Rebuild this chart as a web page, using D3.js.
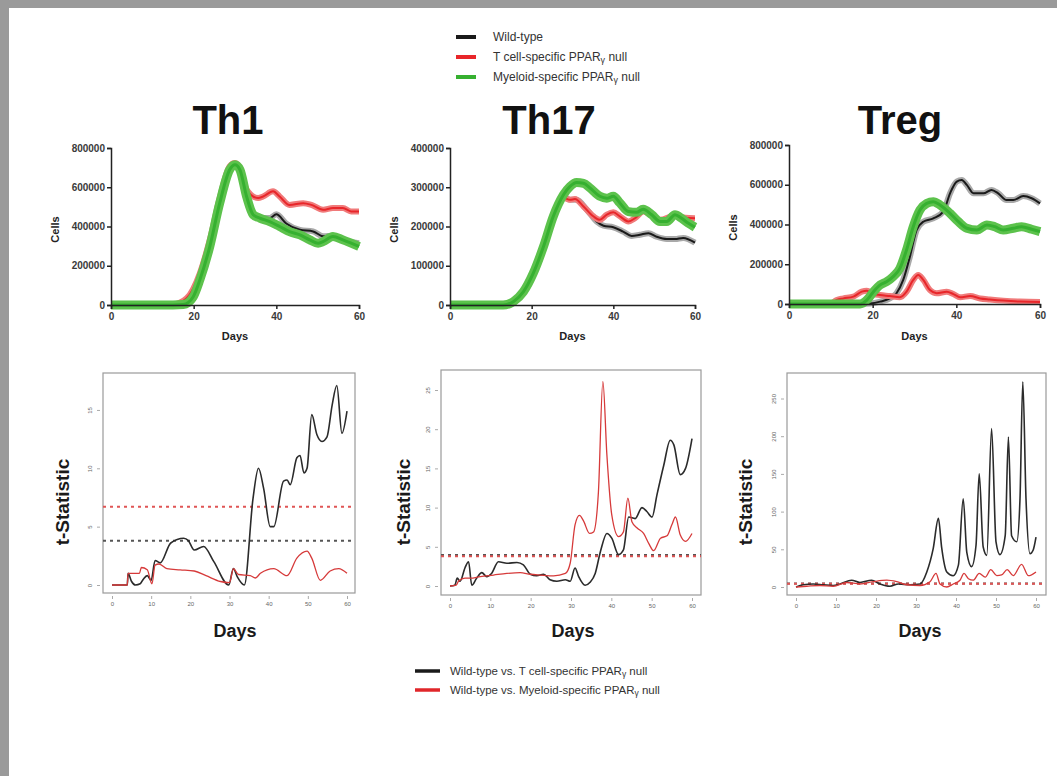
<!DOCTYPE html>
<head>
  <meta charset="UTF-8">
  <script src="https://d3js.org/d3.v7.min.js"></script>
  <title>PPARg null cell dynamics</title>
  <style>
    body { margin: 0; background: #9a9a9a; }
    svg { display: block; font-family: "Liberation Sans", Arial, sans-serif; }
  </style>
</head>
<body>
  <svg id="chart"></svg>
    <script>

        var width = 1057;
        var height = 776;

        // top row: simulated cell counts, [day, cells]
        var th1WT = [[0,0],[14,0],[17.5,2000],[19.9,40000],[21.5,128000],[23.9,298000],[26.3,519000],[28.7,689000],[30,712000],[31.2,690000],[32.8,553000],[34.4,465000],[36,445000],[38.4,443000],[40,462000],[42.4,415000],[45.7,383000],[48.9,375000],[51.3,350000],[53.7,352000],[56.1,332000],[60,315000]];
        var th1Tcell = [[0,0],[13,0],[15,2000],[18.3,34000],[21.5,162000],[23.9,332000],[26.3,545000],[28.7,706000],[30,723000],[31.2,698000],[32.8,587000],[35.6,545000],[36.8,553000],[39.2,579000],[40.8,553000],[43.2,510000],[46.5,519000],[48.5,510000],[51.3,485000],[53.7,494000],[56.1,494000],[58.1,477000],[60,477000]];
        var th1Myel = [[0,0],[15,0],[17.5,2000],[19.9,42000],[21.5,128000],[23.9,298000],[26.3,519000],[28.7,689000],[30,715000],[31.2,689000],[32.8,553000],[34.4,460000],[36,443000],[38.4,425000],[40.8,400000],[43.2,374000],[45.7,357000],[48.1,332000],[50.1,315000],[51.3,323000],[53.7,349000],[56.1,332000],[58.1,315000],[60,298000]];

        var th17WT = [[0,0],[13,0],[15.5,8500],[18,34000],[20.4,81000],[22.9,149000],[25.3,226000],[27.8,276000],[29.4,268000],[31,268000],[33.5,243000],[35.9,213000],[37.6,202000],[40,198000],[42.4,187000],[44.5,176000],[46.5,179000],[48.6,183000],[50.6,174000],[53.1,168000],[55.1,168000],[57.1,171000],[60,159000]];
        var th17Tcell = [[0,0],[13,0],[15.5,8500],[18,34000],[20.4,81000],[22.9,149000],[25.3,226000],[27.8,273000],[29.4,268000],[30.6,270000],[32.7,251000],[35.1,226000],[36.7,217000],[38.4,230000],[40,236000],[41.6,226000],[43.7,213000],[45.3,221000],[47.3,238000],[51.4,217000],[55.1,228000],[57.6,222000],[60,221000]];
        var th17Myel = [[0,0],[13,0],[15.5,8500],[18,34000],[20.4,81000],[22.9,149000],[25.3,226000],[27.8,281000],[29.4,302000],[31,312000],[32.7,310000],[34.3,298000],[36.7,277000],[38.4,272000],[40,277000],[41.6,260000],[43.7,238000],[45.7,236000],[47.3,244000],[49.4,230000],[51.4,213000],[53.1,213000],[55.1,230000],[56.7,221000],[58.4,208000],[60,198000]];

        var tregWT = [[0,0],[15.4,0],[19.4,3000],[21.8,12000],[24.1,28000],[25.7,54000],[27.3,121000],[28.9,238000],[30.5,372000],[32.1,414000],[34.5,431000],[36.9,465000],[38.5,557000],[40.1,616000],[41.3,624000],[42.5,599000],[44.1,557000],[46.5,557000],[48.4,574000],[50,557000],[52,523000],[53.6,523000],[56,543000],[58,532000],[60,506000]];
        var tregTcell = [[0,0],[9.8,0],[11.4,20000],[13,28000],[15.4,37000],[17.4,62000],[18.6,67000],[20.2,50000],[21.8,45000],[24.1,40000],[26.5,34000],[28.1,62000],[29.7,121000],[30.9,146000],[32.1,121000],[33.7,70000],[35.3,54000],[37.7,62000],[39.3,50000],[40.9,34000],[43.3,40000],[45.7,28000],[48,23000],[51.2,17000],[55.2,12000],[60,10000]];
        var tregMyel = [[0,0],[17,0],[18.6,20000],[20.2,62000],[21.8,96000],[23.3,112000],[24.9,138000],[26.5,179000],[28.1,272000],[29.7,389000],[31.3,473000],[32.9,506000],[34.5,515000],[36.1,498000],[38.5,456000],[40.5,414000],[42.5,381000],[44.9,372000],[47.3,398000],[49.2,389000],[51.2,372000],[53.6,381000],[55.6,389000],[58,376000],[60,364000]];

        // bottom row: t-statistics, [day, t]
        var th1TvsT = [[0,0],[3.9,0],[4.1,1.0],[5,0.3],[6,0],[7.2,0.1],[8,0.5],[9,0.8],[10,0.4],[11,2.1],[12.3,1.9],[15,3.6],[18.3,4.0],[19.5,3.8],[21,3.0],[23.4,3.3],[26,2.0],[29.8,0],[31,1.4],[32,0.7],[33.8,0],[36,7.4],[37.4,10.0],[38.7,8.3],[40.4,5.0],[41.3,5.0],[43.8,8.9],[44.7,9.0],[45.5,8.6],[47.2,10.9],[48,11.1],[49,9.6],[49.8,10.0],[51,14.6],[52.3,12.9],[53.6,12.3],[54.9,12.7],[56.2,15.4],[57.4,17.1],[58.7,13.0],[60,14.9]];
        var th1TvsM = [[0,0],[3.9,0],[4.1,1.0],[7,1.0],[7.5,1.5],[9,1.3],[10.2,0.1],[11,1.7],[12,1.8],[14,1.4],[17.4,1.3],[21,1.2],[24,0.8],[27.7,0.3],[30,0.2],[31,1.4],[32.3,0.9],[35.3,0.8],[36.6,0.6],[37.9,1.0],[41.3,1.4],[44.7,0.8],[47.2,2.3],[49.8,2.9],[51,2.3],[53.2,0.4],[55.7,1.2],[57.9,1.4],[60,1.0]];
        var th17TvsT = [[0,0],[1.2,0.1],[1.8,1.0],[2.5,0.6],[3.7,2.3],[4.6,3.1],[5.4,0.1],[6.6,1.0],[7.9,1.7],[9.1,1.2],[10.3,1.6],[12,3.1],[14.1,2.9],[16.6,3.0],[18.2,2.7],[19.9,1.5],[21.5,1.3],[23.2,1.5],[24.8,0.8],[26.5,0.6],[28.6,0.8],[29.8,0.6],[31,2.3],[31.9,1.2],[33.5,0.1],[34.8,0.5],[36,1.6],[37.3,4.4],[38.9,6.7],[40.1,6.1],[41.8,4.0],[43,4.6],[44.3,8.8],[45.9,8.6],[47.6,10.0],[48.8,9.5],[50.1,8.8],[51.3,11.6],[53,15.4],[54.6,18.6],[55.5,18.0],[57.1,14.2],[58.4,15.0],[60,18.8]];
        var th17TvsM = [[0,0],[1.5,0.1],[2.1,0.6],[3.7,1.0],[5,1.0],[7.5,1.2],[10.8,1.4],[14.1,1.6],[17.4,1.7],[19.9,1.5],[22.4,1.4],[25.7,1.3],[28.6,1.6],[29.8,2.9],[31,7.8],[32.1,9.0],[33.1,8.3],[34.6,6.7],[35.6,6.9],[36.8,12.0],[37.9,26.1],[38.9,16.7],[40.1,9.1],[41.8,6.3],[43,6.9],[44.1,11.2],[45.1,8.2],[46.4,7.4],[48,6.7],[49.3,5.4],[50.5,4.5],[52.2,6.1],[53.8,6.4],[55,7.8],[55.9,8.8],[57.1,6.5],[58.4,5.7],[60,6.7]];
        var tregTvsT = [[0,0],[1.8,3],[4.3,4],[6.8,3],[9.3,2],[11,4],[13.9,9],[16,6],[18.9,9],[21,4],[23.5,1],[25.6,4],[28.5,3],[31,4],[32.7,20],[34.3,51],[35.6,91],[36.4,53],[37.7,20],[39.3,15],[40.6,29],[41.8,117],[42.7,46],[43.9,27],[45,55],[45.8,150],[46.8,53],[47.7,42],[48.9,210],[50,60],[51,43],[52.3,68],[53.1,199],[53.9,68],[55.2,60],[56,117],[56.7,272],[57.5,117],[58.5,44],[59.3,49],[60,66]];
        var tregTvsM = [[0,0],[2.7,1],[6,2],[9.3,1],[12.7,6],[16,4],[19.3,7],[22.7,9],[25.2,7],[27.7,3],[31,2],[33.5,7],[35,18],[36,4],[37.7,0],[39.3,4],[41,9],[42,18],[43.1,11],[44.3,9],[45.8,18],[47.3,13],[48.7,23],[50.2,15],[51.4,16],[52.8,23],[54.3,15],[56.4,30],[58.1,15],[60,20]];

        // significance thresholds [black, red]
        var th1Cut = [3.8, 6.7];
        var th17Cut = [3.95, 3.8];
        var tregCut = [4.6, 4.2];

        var panelTitles = ["Th1", "Th17", "Treg"];
        var dayTicksTop = [0, 20, 40, 60];
        var dayTicksBottom = [0, 10, 20, 30, 40, 50, 60];
        var legendTop = ["Wild-type", "T cell-specific PPAR", "Myeloid-specific PPAR"];
        var legendBottom = ["Wild-type vs. T cell-specific PPAR", "Wild-type vs. Myeloid-specific PPAR"];

        var svg = d3.select("#chart")
            .attr("width", width)
            .attr("height", height);

        // grey frame on the left/top, white page
        svg.append("rect").attr("width", width).attr("height", height).attr("fill", "#9a9a9a");
        svg.append("rect").attr("x", 9).attr("y", 8).attr("width", width - 9).attr("height", height - 8).attr("fill", "#fff");

        var col = { wt: "#1a1a1a", tc: "#e8262a", my: "#36b030" };
        var band = { wt: "#a9a9a9", tc: "#f07a7a", my: "#5cc24c" };

        // top legend
        var lg = svg.append("g");
        [col.wt, col.tc, col.my].forEach(function(c, i) {
            var y = 37 + i * 20;
            lg.append("line").attr("x1", 456).attr("x2", 476).attr("y1", y).attr("y2", y)
                .attr("stroke", c).attr("stroke-width", 4);
            var t = lg.append("text").attr("x", 493).attr("y", y + 4)
                .attr("font-size", 12).attr("fill", "#333").text(legendTop[i]);
            if (i > 0) {
                t.append("tspan").attr("font-size", 9).attr("dy", 2).text("γ");
                t.append("tspan").attr("dy", -2).text(" null");
            }
        });

        // bottom legend
        [col.wt, "#e0262a"].forEach(function(c, i) {
            var y = 671 + i * 19;
            svg.append("line").attr("x1", 415).attr("x2", 440).attr("y1", y).attr("y2", y)
                .attr("stroke", c).attr("stroke-width", 3.5);
            var t = svg.append("text").attr("x", 450).attr("y", y + 4)
                .attr("font-size", 11.5).attr("fill", "#333").text(legendBottom[i]);
            t.append("tspan").attr("font-size", 8.5).attr("dy", 2).text("γ");
            t.append("tspan").attr("dy", -2).text(" null");
        });

        var topPanels = [
            { title: panelTitles[0], tx: 228, x0: 111, x1: 359, y0: 305, y1: 148, max: 800000, step: 200000,
              series: [[th1WT, "wt"], [th1Tcell, "tc"], [th1Myel, "my"]] },
            { title: panelTitles[1], tx: 549, x0: 450, x1: 695, y0: 305, y1: 148, max: 400000, step: 100000,
              series: [[th17WT, "wt"], [th17Tcell, "tc"], [th17Myel, "my"]] },
            { title: panelTitles[2], tx: 900, x0: 789, x1: 1040, y0: 304, y1: 145, max: 800000, step: 200000,
              series: [[tregWT, "wt"], [tregTcell, "tc"], [tregMyel, "my"]] }
        ];

        topPanels.forEach(function(p) {
            var g = svg.append("g");
            g.append("text").attr("x", p.tx).attr("y", 134).attr("text-anchor", "middle")
                .attr("font-size", 40).attr("font-weight", "bold").attr("fill", "#111").text(p.title);

            var x = d3.scaleLinear().domain([0, 60]).range([p.x0, p.x1]);
            var y = d3.scaleLinear().domain([0, p.max]).range([p.y0, p.y1]);

            var line = d3.line()
                .x(function(d) { return x(d[0]); })
                .y(function(d) { return y(d[1]); })
                .curve(d3.curveMonotoneX);

            p.series.forEach(function(s) {
                var w = s[1] == "my" ? 9 : 6;
                g.append("path").attr("d", line(s[0])).attr("fill", "none")
                    .attr("stroke", band[s[1]]).attr("stroke-width", w).attr("stroke-linejoin", "round");
                g.append("path").attr("d", line(s[0])).attr("fill", "none")
                    .attr("stroke", col[s[1]]).attr("stroke-width", s[1] == "my" ? 3 : 2);
            });

            var xa = g.append("g").attr("transform", "translate(0," + p.y0 + ")")
                .call(d3.axisBottom(x).tickValues(dayTicksTop).tickSize(4).tickPadding(4));
            var ya = g.append("g").attr("transform", "translate(" + p.x0 + ",0)")
                .call(d3.axisLeft(y).tickValues(d3.range(0, p.max + 1, p.step)).tickSize(4).tickPadding(2)
                .tickFormat(d3.format("d")));
            [xa, ya].forEach(function(a) {
                a.selectAll("path, line").attr("stroke", "#222").attr("stroke-width", 1.5);
                a.selectAll("text").attr("font-size", 10).attr("font-weight", "bold").attr("fill", "#3a3a3a")
                    .attr("font-family", "Liberation Sans, Arial, sans-serif");
            });

            g.append("text").attr("x", (p.x0 + p.x1) / 2).attr("y", 340).attr("text-anchor", "middle")
                .attr("font-size", 11).attr("font-weight", "bold").attr("fill", "#222").text("Days");
            g.append("text").attr("transform", "translate(" + (p.x0 - 52) + "," + ((p.y0 + p.y1) / 2 + 3) + ") rotate(-90)")
                .attr("text-anchor", "middle").attr("font-size", 11).attr("font-weight", "bold")
                .attr("fill", "#222").text("Cells");
        });

        var bottomPanels = [
            { bx0: 103, bx1: 355, by0: 593, by1: 373, x0: 112, x1: 347, z: 585, per: 11.67, step: 5, tl: 62, days: 235,
              black: th1TvsT, red: th1TvsM, cut: th1Cut },
            { bx0: 441, bx1: 701, by0: 595, by1: 370, x0: 450, x1: 692, z: 586, per: 7.84, step: 5, tl: 403, days: 573,
              black: th17TvsT, red: th17TvsM, cut: th17Cut },
            { bx0: 787, bx1: 1046, by0: 595, by1: 373, x0: 796, x1: 1036, z: 587, per: 0.754, step: 50, tl: 745, days: 920,
              black: tregTvsT, red: tregTvsM, cut: tregCut }
        ];

        bottomPanels.forEach(function(p) {
            var g = svg.append("g");
            var x = d3.scaleLinear().domain([0, 60]).range([p.x0, p.x1]);
            var y = d3.scaleLinear()
                .domain([(p.z - p.by0) / p.per, (p.z - p.by1) / p.per])
                .range([p.by0, p.by1]);

            var line = d3.line()
                .x(function(d) { return x(d[0]); })
                .y(function(d) { return y(d[1]); })
                .curve(d3.curveMonotoneX);

            g.append("rect").attr("x", p.bx0).attr("y", p.by1)
                .attr("width", p.bx1 - p.bx0).attr("height", p.by0 - p.by1)
                .attr("fill", "none").attr("stroke", "#9a9a9a").attr("stroke-width", 1.2);

            g.append("line").attr("x1", p.bx0).attr("x2", p.bx1)
                .attr("y1", y(p.cut[0])).attr("y2", y(p.cut[0]))
                .attr("stroke", "#555").attr("stroke-width", 2).attr("stroke-dasharray", "3,4");
            g.append("line").attr("x1", p.bx0).attr("x2", p.bx1)
                .attr("y1", y(p.cut[1])).attr("y2", y(p.cut[1]))
                .attr("stroke", "#e05555").attr("stroke-width", 2).attr("stroke-dasharray", "3,4");

            g.append("path").attr("d", line(p.black)).attr("fill", "none")
                .attr("stroke", "#2b2b2b").attr("stroke-width", 1.6);
            g.append("path").attr("d", line(p.red)).attr("fill", "none")
                .attr("stroke", "#d63a3a").attr("stroke-width", 1.3);

            var xa = g.append("g").attr("transform", "translate(0," + (p.by0 + 3) + ")")
                .call(d3.axisBottom(x).tickValues(dayTicksBottom).tickSize(3).tickPadding(3));
            var yt = d3.range(0, y.domain()[1], p.step);
            var ya = g.append("g").attr("transform", "translate(" + (p.bx0 - 3) + ",0)")
                .call(d3.axisLeft(y).tickValues(yt).tickSize(3).tickPadding(3));
            [xa, ya].forEach(function(a) {
                a.select(".domain").remove();
                a.selectAll("line").attr("stroke", "#aaa");
                a.selectAll("text").attr("font-size", 6).attr("fill", "#666");
            });
            ya.selectAll(".tick text").attr("text-anchor", "middle").attr("dy", "0em").attr("x", -8)
                .attr("transform", "rotate(-90,-8,0)");

            g.append("text").attr("transform", "translate(" + (p.tl + 7) + ",502) rotate(-90)")
                .attr("text-anchor", "middle").attr("font-size", 19).attr("font-weight", "bold")
                .attr("fill", "#1a1a1a").text("t-Statistic");
            g.append("text").attr("x", p.days).attr("y", 637).attr("text-anchor", "middle")
                .attr("font-size", 18).attr("font-weight", "bold").attr("fill", "#1a1a1a").text("Days");
        });

    </script>
    </body>
</html>
